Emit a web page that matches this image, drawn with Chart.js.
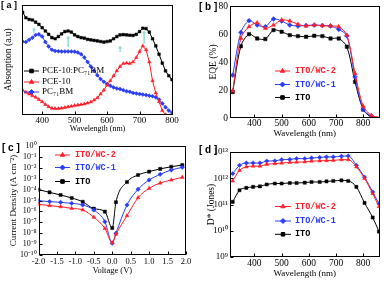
<!DOCTYPE html>
<html>
<head>
<meta charset="utf-8">
<script src="https://cdn.jsdelivr.net/npm/chart.js@4.4.0/dist/chart.umd.min.js"></script>
<style>
  html, body { margin: 0; padding: 0; background: #fff; }
  #wrap { position: relative; width: 384px; height: 281px; overflow: hidden; }
  canvas { position: absolute; }
</style>
</head>
<body>
<div id="wrap">
  <canvas id="chartA" width="192" height="140" style="left:0;top:0"></canvas>
  <canvas id="chartB" width="192" height="140" style="left:192px;top:0"></canvas>
  <canvas id="chartC" width="192" height="141" style="left:0;top:140px"></canvas>
  <canvas id="chartD" width="192" height="141" style="left:192px;top:140px"></canvas>
</div>
<script>
// ---- [a] absorption (arbitrary units) ----
const absWavelength = [340, 350, 360, 370, 380, 390, 400, 410, 420, 430, 440, 450, 460, 470, 480, 490, 500, 510, 520, 530,
  540, 550, 560, 570, 580, 590, 600, 610, 620, 630, 640, 650, 660, 670, 680, 690, 700, 710, 720, 730,
  740, 750, 760, 770, 780, 790, 800];
const absBlend = [0.93, 0.88, 0.865, 0.86, 0.84, 0.82, 0.79, 0.76, 0.73, 0.70, 0.69, 0.71, 0.735, 0.755, 0.76, 0.75, 0.725, 0.71, 0.70, 0.695,
  0.685, 0.68, 0.675, 0.67, 0.665, 0.66, 0.665, 0.67, 0.69, 0.71, 0.725, 0.727, 0.725, 0.722, 0.72, 0.73, 0.755, 0.785, 0.782, 0.75,
  0.69, 0.625, 0.55, 0.47, 0.40, 0.355, 0.32];
const absPce10 = [0.225, 0.205, 0.19, 0.175, 0.16, 0.14, 0.12, 0.095, 0.075, 0.06, 0.058, 0.058, 0.062, 0.068, 0.074, 0.08, 0.085, 0.09, 0.095, 0.10,
  0.108, 0.118, 0.135, 0.155, 0.19, 0.225, 0.27, 0.31, 0.355, 0.40, 0.44, 0.465, 0.47, 0.465, 0.48, 0.52, 0.575, 0.625, 0.59, 0.48,
  0.31, 0.20, 0.12, 0.04, 0.003];
const absPcbm = [0.665, 0.66, 0.68, 0.70, 0.725, 0.73, 0.71, 0.66, 0.62, 0.59, 0.58, 0.577, 0.575, 0.575, 0.575, 0.575, 0.573, 0.565, 0.55, 0.52,
  0.48, 0.44, 0.40, 0.36, 0.325, 0.30, 0.28, 0.265, 0.25, 0.24, 0.235, 0.225, 0.215, 0.21, 0.20, 0.195, 0.19, 0.185, 0.18, 0.175,
  0.17, 0.16, 0.14, 0.105, 0.07, 0.04, 0.02];
// cyan arrows: [wavelength, from, to]
const absArrows = [[375, 0.745, 0.795], [480, 0.615, 0.72], [640, 0.57, 0.63], [714, 0.645, 0.765]];

// ---- [b] EQE (%) ----
const eqeWavelength = [320, 350, 380, 410, 440, 470, 500, 530, 560, 590, 620, 650, 680, 710, 740, 770, 800, 830, 860];
const eqeWc2 = [19.3, 57, 65.2, 68, 64, 66.4, 70, 69.3, 66.9, 65.7, 66.4, 65.9, 65.7, 65.2, 59.2, 31.8, 8.4, 1.9, 0.4];
const eqeWc1 = [30.6, 61.1, 69.5, 66.4, 65.2, 70.7, 69.3, 66.4, 65.7, 66.1, 66.4, 66.1, 65.7, 63.3, 58.7, 29.4, 6.2, 1.4, 0.3];
const eqeIto = [18.6, 51.3, 59.9, 56.8, 56.4, 62.8, 61.6, 59.2, 58.5, 58.0, 58.7, 58.5, 56.8, 56.8, 50.9, 25.8, 6.0, 0.7, 0.2];

// ---- [c] current density (A cm-2) ----
const ivVoltage = [-2.0, -1.7, -1.4, -1.1, -0.8, -0.5, -0.2, 0, 0.1, 0.4, 0.7, 1.0, 1.3, 1.6, 1.9];
const ivWc2 = [4.5e-6, 3.4e-6, 2.7e-6, 1.9e-6, 1.35e-6, 2.9e-7, 2.8e-8, 1.35e-9, 8e-9, 4e-7, 1.8e-5, 1.3e-4, 4e-4, 7.6e-4, 1.35e-3];
const ivWc1 = [9.5e-6, 7.9e-6, 6.8e-6, 5.5e-6, 3.9e-6, 1.35e-6, 1.15e-7, 1.2e-9, 1e-8, 3.9e-6, 1.07e-4, 7.6e-4, 2.5e-3, 6.3e-3, 1.1e-2];
const ivIto = [1.0e-4, 5.6e-5, 3.2e-5, 1.7e-5, 7.6e-6, 1.8e-6, 9.5e-7, 3e-8, 7e-6, 5e-4, 2.2e-3, 4.5e-3, 8e-3, 1.25e-2, 1.8e-2];

// ---- [d] detectivity (Jones) ----
const detWavelength = [320, 345, 370, 395, 420, 445, 475, 500, 530, 555, 585, 610, 640, 665, 690, 720, 745, 775, 805, 835, 858];
const detWc2 = [7.9e11, 2.0e12, 2.7e12, 2.9e12, 2.9e12, 3.4e12, 3.6e12, 3.8e12, 4.0e12, 4.1e12, 4.2e12, 4.5e12, 4.6e12, 4.7e12, 4.8e12, 5.1e12, 5.1e12, 2.7e12, 9.8e11, 2.6e11, 8.3e10];
const detWc1 = [1.5e12, 3.1e12, 3.8e12, 3.8e12, 3.8e12, 4.5e12, 4.6e12, 5.1e12, 5.2e12, 5.6e12, 5.6e12, 5.9e12, 6.2e12, 6.5e12, 6.5e12, 6.9e12, 7.1e12, 3.1e12, 1.1e12, 3.0e11, 1.07e11];
const detIto = [1.26e11, 3.5e11, 4.3e11, 4.7e11, 4.9e11, 5.8e11, 6.3e11, 6.3e11, 6.6e11, 6.6e11, 6.8e11, 7.2e11, 7.2e11, 7.6e11, 7.9e11, 8.3e11, 7.9e11, 4.7e11, 1.15e11, 3.2e10, 9.3e9];

const RED = '#ff1f2a';
const BLUE = '#2a3cf5';
const BLACK = '#000000';
const SERIF = "'Liberation Serif', 'Times New Roman', serif";
const MONO_FONT = "bold 8.5px 'Liberation Mono', 'Courier New', monospace";

const SUP = { '0': '⁰', '1': '¹', '2': '²', '3': '³', '4': '⁴', '5': '⁵', '6': '⁶', '7': '⁷', '8': '⁸', '9': '⁹', '-': '⁻' };
function pow10Label(v) {
    const e = String(Math.round(Math.log10(v)));
    return '10' + e.split('').map(c => SUP[c]).join('');
}

function pts(xs, ys) {
    return xs.map((x, i) => ({ x: x, y: ys[i] })).filter(p => p.y != null);
}

function series(label, xs, ys, color, style, extra) {
    return Object.assign({
        label: label,
        data: pts(xs, ys),
        borderColor: color,
        backgroundColor: color,
        pointBackgroundColor: color,
        pointBorderColor: color,
        pointStyle: style,
        pointRadius: 2.2,
        pointBorderWidth: 0.5,
        borderWidth: 1
    }, extra || {});
}

// Frame with inward ticks + panel letter
const framePlugin = {
    id: 'frame',
    afterDatasetsDraw(chart, args, opts) {
        const { ctx, chartArea: a, scales } = chart;
        ctx.save();
        ctx.strokeStyle = '#000';
        ctx.lineWidth = 1;
        const l = Math.round(a.left) + 0.5, t = Math.round(a.top) + 0.5;
        const r = Math.round(a.right) - 0.5, b = Math.round(a.bottom) - 0.5;
        ctx.strokeRect(l, t, r - l, b - t);
        ctx.beginPath();
        scales.x.ticks.forEach(tk => {
            const px = Math.round(scales.x.getPixelForValue(tk.value)) + 0.5;
            ctx.moveTo(px, b); ctx.lineTo(px, b - 3);
        });
        if (opts.yTicks) {
            scales.y.ticks.forEach(tk => {
                const py = Math.round(scales.y.getPixelForValue(tk.value)) + 0.5;
                ctx.moveTo(l, py); ctx.lineTo(l + 3, py);
            });
        }
        ctx.stroke();
        ctx.fillStyle = '#000';
        ctx.font = opts.labelFont;
        ctx.textBaseline = 'top';
        ctx.textAlign = 'left';
        ctx.fillText(opts.label, opts.labelX, opts.labelY);
        ctx.restore();
    }
};

// Legend drawn at fixed spots inside the plot
const legendPlugin = {
    id: 'manualLegend',
    afterDatasetsDraw(chart, args, opts) {
        const ctx = chart.ctx;
        opts.items.forEach(it => {
            const ds = chart.data.datasets[it.ds];
            ctx.save();
            ctx.strokeStyle = ds.borderColor;
            ctx.lineWidth = 1;
            ctx.beginPath();
            ctx.moveTo(opts.x1, it.y);
            ctx.lineTo(opts.x2, it.y);
            ctx.stroke();
            ctx.fillStyle = ds.pointBackgroundColor;
            Chart.helpers.drawPoint(ctx, { pointStyle: ds.pointStyle, radius: 2.5, borderWidth: 0.5, rotation: 0 }, (opts.x1 + opts.x2) / 2, it.y);
            ctx.font = opts.font;
            ctx.fillStyle = it.color;
            ctx.textBaseline = 'middle';
            ctx.textAlign = 'left';
            ctx.fillText(it.text, opts.tx, it.y);
            ctx.restore();
        });
    }
};

const arrowPlugin = {
    id: 'arrows',
    afterDatasetsDraw(chart, args, opts) {
        if (!opts.items) return;
        const { ctx, scales: { x, y } } = chart;
        ctx.save();
        ctx.strokeStyle = opts.color;
        ctx.fillStyle = opts.color;
        ctx.lineWidth = 1.5;
        opts.items.forEach(a => {
            const px = x.getPixelForValue(a[0]);
            const y0 = y.getPixelForValue(a[1]);
            const y1 = y.getPixelForValue(a[2]);
            ctx.beginPath();
            ctx.moveTo(px, y0);
            ctx.lineTo(px, y1 + 2);
            ctx.stroke();
            ctx.beginPath();
            ctx.moveTo(px, y1);
            ctx.lineTo(px - 2, y1 + 3);
            ctx.lineTo(px + 2, y1 + 3);
            ctx.closePath();
            ctx.fill();
        });
        ctx.restore();
    }
};

function makeOptions(c) {
    return {
        responsive: false,
        animation: false,
        devicePixelRatio: 1,
        layout: { padding: { left: 0, top: c.top, right: c.right, bottom: 0 } },
        plugins: {
            legend: { display: false },
            tooltip: { enabled: false },
            frame: c.frame,
            manualLegend: c.legend,
            arrows: c.arrows || {}
        },
        scales: {
            x: {
                type: 'linear',
                min: c.xMin, max: c.xMax,
                grid: { display: false, drawTicks: false },
                border: { display: false },
                ticks: {
                    padding: c.xTickPad, color: '#000', maxRotation: 0, autoSkip: false,
                    font: { family: SERIF, size: c.xTickSize },
                    callback: c.xFormat || (v => String(v))
                },
                afterBuildTicks: s => { s.ticks = c.xTicks.map(v => ({ value: v })); },
                afterFit: s => { s.height = c.xHeight; s.paddingLeft = 0; s.paddingRight = 0; },
                title: {
                    display: true, text: c.xTitle, color: '#000',
                    font: { family: SERIF, size: c.xTitleSize },
                    padding: { top: 0, bottom: c.xTitlePad }
                }
            },
            y: {
                type: c.yType || 'linear',
                min: c.yMin, max: c.yMax,
                grid: { display: false, drawTicks: false },
                border: { display: false },
                ticks: {
                    display: c.yTicks != null,
                    padding: c.yTickPad || 2, color: '#000', autoSkip: false,
                    font: { family: SERIF, size: c.yTickSize || 9 },
                    callback: c.yFormat || (v => String(v))
                },
                afterBuildTicks: s => { if (c.yTicks) s.ticks = c.yTicks.map(v => ({ value: v })); },
                afterFit: s => { s.width = c.yWidth; s.paddingTop = 0; s.paddingBottom = 0; },
                title: {
                    display: true, text: c.yTitle, color: '#000',
                    font: { family: SERIF, size: c.yTitleSize },
                    padding: { top: c.yTitlePad, bottom: 0 }
                }
            }
        }
    };
}

const wavelengthTicks = [400, 500, 600, 700, 800];

// [a]
new Chart(document.getElementById('chartA'), {
    type: 'line',
    data: {
        datasets: [
            series('PCE-10:PC71BM', absWavelength, absBlend, BLACK, 'rect', { pointRadius: 1.9 }),
            series('PCE-10', absWavelength, absPce10, RED, 'triangle', { pointRadius: 2 }),
            series('PC71BM', absWavelength, absPcbm, BLUE, 'rectRot', { pointRadius: 2 })
        ]
    },
    options: makeOptions({
        top: 4, right: 19,
        xMin: 338, xMax: 803, xTicks: wavelengthTicks, xTickPad: 0, xTickSize: 9, xHeight: 25,
        xTitle: 'Wavelength (nm)', xTitleSize: 8, xTitlePad: 6,
        yMin: 0, yMax: 1, yWidth: 22,
        yTitle: 'Absorption (a.u)', yTitleSize: 9.5, yTitlePad: 3,
        frame: { label: '[ a ]', labelX: 1, labelY: 1, labelFont: "bold 9px 'Liberation Sans', Arial, sans-serif" },
        legend: {
            x1: 24, x2: 39, tx: 42, font: "9px " + SERIF,
            items: [
                { ds: 0, y: 71, text: 'PCE-10:PC₇₁BM', color: '#000' },
                { ds: 1, y: 82, text: 'PCE-10', color: '#000' },
                { ds: 2, y: 92, text: 'PC₇₁BM', color: '#000' }
            ]
        },
        arrows: { color: '#8fdcd6', items: absArrows }
    }),
    plugins: [framePlugin, legendPlugin, arrowPlugin]
});

// [b]
const eqeRadius = eqeWavelength.map(w => (w > 840 ? 0 : 2.4));
new Chart(document.getElementById('chartB'), {
    type: 'line',
    data: {
        datasets: [
            series('ITO/WC-2', eqeWavelength, eqeWc2, RED, 'triangle', { pointRadius: eqeRadius, tension: 0.3 }),
            series('ITO/WC-1', eqeWavelength, eqeWc1, BLUE, 'rectRot', { pointRadius: eqeRadius, tension: 0.3 }),
            series('ITO', eqeWavelength, eqeIto, BLACK, 'rect', { pointRadius: eqeRadius, tension: 0.3 })
        ]
    },
    options: makeOptions({
        top: 6, right: 2,
        xMin: 310, xMax: 860, xTicks: wavelengthTicks, xTickPad: 0, xTickSize: 9.5, xHeight: 22,
        xTitle: 'Wavelength (nm)', xTitleSize: 9, xTitlePad: 1,
        yMin: 0, yMax: 80, yTicks: [0, 20, 40, 60, 80], yTickSize: 9.5, yTickPad: 2, yWidth: 38,
        yTitle: 'EQE (%)', yTitleSize: 9.5, yTitlePad: 16,
        frame: { label: '[ b ]', labelX: 7, labelY: 2, labelFont: "bold 10px 'Liberation Sans', Arial, sans-serif" },
        legend: {
            x1: 83, x2: 98, tx: 103, font: MONO_FONT,
            items: [
                { ds: 0, y: 71, text: 'ITO/WC-2', color: RED },
                { ds: 1, y: 84.5, text: 'ITO/WC-1', color: BLUE },
                { ds: 2, y: 97.5, text: 'ITO', color: BLACK }
            ]
        }
    }),
    plugins: [framePlugin, legendPlugin]
});

// [c]
new Chart(document.getElementById('chartC'), {
    type: 'line',
    data: {
        datasets: [
            series('ITO/WC-2', ivVoltage, ivWc2, RED, 'triangle', { cubicInterpolationMode: 'monotone' }),
            series('ITO/WC-1', ivVoltage, ivWc1, BLUE, 'rectRot', { cubicInterpolationMode: 'monotone' }),
            series('ITO', ivVoltage, ivIto, BLACK, 'rect', { cubicInterpolationMode: 'monotone' })
        ]
    },
    options: makeOptions({
        top: 6, right: 6,
        xMin: -2, xMax: 2, xTicks: [-2, -1.5, -1, -0.5, 0, 0.5, 1, 1.5, 2], xTickPad: 1.5, xTickSize: 8.5, xHeight: 26,
        xFormat: v => v.toFixed(1),
        xTitle: 'Voltage (V)', xTitleSize: 8.5, xTitlePad: 5,
        yType: 'logarithmic', yMin: 1e-10, yMax: 1,
        yTicks: [1e-10, 1e-9, 1e-8, 1e-7, 1e-6, 1e-5, 1e-4, 1e-3, 1e-2, 1e-1, 1],
        yFormat: pow10Label, yTickSize: 8, yTickPad: 2, yWidth: 38.5,
        yTitle: 'Current Density (A cm⁻²)', yTitleSize: 9, yTitlePad: 8,
        frame: { label: '[ c ]', labelX: 2, labelY: 3, labelFont: "bold 10px 'Liberation Sans', Arial, sans-serif", yTicks: true },
        legend: {
            x1: 55, x2: 70, tx: 75, font: MONO_FONT,
            items: [
                { ds: 0, y: 15, text: 'ITO/WC-2', color: RED },
                { ds: 1, y: 27.5, text: 'ITO/WC-1', color: BLUE },
                { ds: 2, y: 41.5, text: 'ITO', color: BLACK }
            ]
        }
    }),
    plugins: [framePlugin, legendPlugin]
});

// [d]
new Chart(document.getElementById('chartD'), {
    type: 'line',
    data: {
        datasets: [
            series('ITO/WC-2', detWavelength, detWc2, RED, 'triangle', { cubicInterpolationMode: 'monotone' }),
            series('ITO/WC-1', detWavelength, detWc1, BLUE, 'rectRot', { cubicInterpolationMode: 'monotone' }),
            series('ITO', detWavelength, detIto, BLACK, 'rect', { cubicInterpolationMode: 'monotone' })
        ]
    },
    options: makeOptions({
        top: 12, right: 2,
        xMin: 310, xMax: 860, xTicks: wavelengthTicks, xTickPad: 1, xTickSize: 9.5, xHeight: 24,
        xTitle: 'Wavelength (nm)', xTitleSize: 9, xTitlePad: 2,
        yType: 'logarithmic', yMin: 1e9, yMax: 1e13,
        yTicks: [1e9, 1e10, 1e11, 1e12, 1e13],
        yFormat: pow10Label, yTickSize: 9, yTickPad: 2, yWidth: 38,
        yTitle: 'D* (Jones)', yTitleSize: 9.5, yTitlePad: 13.5,
        frame: { label: '[ d ]', labelX: 7, labelY: 5, labelFont: "bold 10px 'Liberation Sans', Arial, sans-serif", yTicks: true },
        legend: {
            x1: 83, x2: 99, tx: 103, font: MONO_FONT,
            items: [
                { ds: 0, y: 66.5, text: 'ITO/WC-2', color: RED },
                { ds: 1, y: 81, text: 'ITO/WC-1', color: BLUE },
                { ds: 2, y: 94.3, text: 'ITO', color: BLACK }
            ]
        }
    }),
    plugins: [framePlugin, legendPlugin]
});
</script>
</body>
</html>
